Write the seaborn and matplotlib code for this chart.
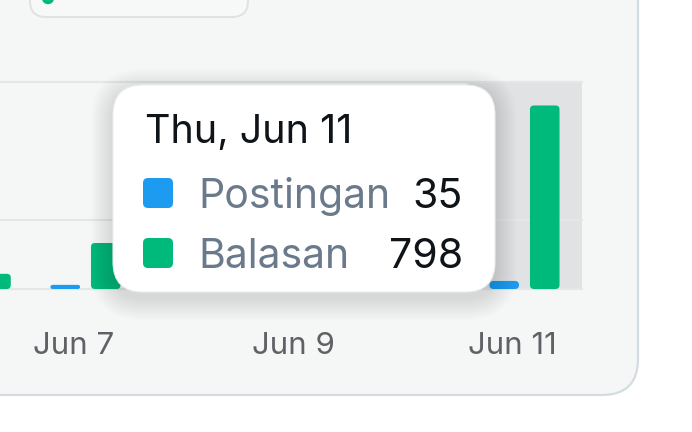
import pandas as pd
import matplotlib.pyplot as plt
import seaborn as sns
from matplotlib.patches import FancyBboxPatch, Circle
from matplotlib.transforms import ScaledTranslation

# Data (Jun 8-10 are hidden behind the tooltip)
days = ["Jun 6", "Jun 7", "Jun 8", "Jun 9", "Jun 10", "Jun 11"]
postingan = [16, 18, 24, 14, 20, 35]
balasan = [66, 200, 330, 250, 460, 798]
series = ["Postingan", "Balasan"]
colors = ["#1d9bf0", "#00ba7c"]
tick_days = ["Jun 7", "Jun 9", "Jun 11"]
grid_vals = [0, 300, 900]
hover_day = "Jun 11"
hover_title = "Thu, Jun 11"

W, H = 692, 432

df = pd.DataFrame({
    "day": days * 2,
    "value": postingan + balasan,
    "series": [series[0]] * len(days) + [series[1]] * len(days),
})

sns.set_theme(style="white")
plt.rcParams["font.family"] = ["Inter", "DejaVu Sans"]

fig = plt.figure(figsize=(W / 100, H / 100), dpi=100)
fig.patch.set_facecolor("white")
inch = fig.dpi_scale_trans


def box(x0, y0, x1, y1, r, **kw):
    # pixel box (top-left origin) -> rounded patch in inches
    p = FancyBboxPatch((x0 / 100, (H - y1) / 100), (x1 - x0) / 100, (y1 - y0) / 100,
                       boxstyle=f"round,pad=0,rounding_size={r / 100}",
                       transform=inch, **kw)
    fig.add_artist(p)
    return p


# card background
box(-60, -60, 638, 395, 36, facecolor="#f5f7f7", edgecolor="#d3dce0", lw=1.6, zorder=-2)
# legend pill (mostly cut off at the top)
box(30, -40, 248, 17, 16, facecolor="#f7f8f8", edgecolor="#dde2e5", lw=1.4, zorder=-1)
fig.add_artist(Circle((48 / 100, (H + 2) / 100), 0.055, transform=inch,
                      color=colors[1], zorder=-1))

ax = fig.add_axes([0, (H - 289) / H, 582 / W, 207 / H])
ax.set_facecolor("none")

sns.barplot(data=df, x="day", y="value", hue="series", order=days, hue_order=series,
            palette=colors, width=0.738, gap=0.27, saturation=1, errorbar=None,
            legend=False, ax=ax, zorder=3)
bars = list(ax.patches)

ax.set_xlim(0.221, 5.524)
ax.set_ylim(0, 900)
for s in ax.spines.values():
    s.set_visible(False)

# hovered day band
hi = days.index(hover_day)
ax.axvspan(hi - 0.52, hi + 0.6, color="#e1e2e4", lw=0, zorder=0)

ax.set_yticks(grid_vals)
ax.set_yticklabels([])
ax.yaxis.grid(True, color="#e4e7e9", lw=1.6, zorder=1)
for gl in ax.get_ygridlines():
    gl.set_clip_on(False)
ax.tick_params(axis="y", length=0)

ax.set_xticks([days.index(d) for d in tick_days])
ax.set_xticklabels(tick_days)
ax.set_xlabel("")
ax.set_ylabel("")
ax.tick_params(axis="x", length=0, pad=31, labelsize=22.5, labelcolor="#5e6266")
for lab in ax.get_xticklabels():
    lab.set_transform(lab.get_transform() + ScaledTranslation(-12 / 100, 0, inch))

# rounded bar corners
xlo, xhi = ax.get_xlim()
ylo, yhi = ax.get_ylim()
sx = (xhi - xlo) / 582
sy = (yhi - ylo) / 207
for b in bars:
    x, y, w, h = b.get_x(), b.get_y(), b.get_width(), b.get_height()
    r_px = min(4, w / sx / 2, h / sy / 2)
    rb = FancyBboxPatch((x, y), w, h, boxstyle=f"round,pad=0,rounding_size={r_px * sx}",
                        mutation_aspect=sy / sx, facecolor=b.get_facecolor(),
                        lw=0, zorder=3)
    b.remove()
    ax.add_patch(rb)

# tooltip with soft shadow
for i in range(10):
    g = 2 + i * 2.2
    box(113 - g, 85 - g + 6, 495 + g, 292 + g + 6, 30 + g,
        facecolor="black", alpha=0.011, lw=0, zorder=4)
box(113, 85, 495, 292, 30, facecolor="white", edgecolor="#eceeef", lw=0.8, zorder=5)

fig.text(145 / W, 1 - 143 / H, hover_title, fontsize=28.5, color="#0f1419",
         va="baseline", zorder=6)
vals = [postingan[hi], balasan[hi]]
for k, (name, col, v) in enumerate(zip(series, colors, vals)):
    base = 208 + k * 60
    box(143, base - 30, 173, base, 5, facecolor=col, lw=0, zorder=6)
    fig.text(198 / W, 1 - base / H, name, fontsize=29.5, color="#6a7a8a",
             va="baseline", zorder=6)
    fig.text(463 / W, 1 - base / H, str(v), fontsize=29.5, color="#0f1419",
             va="baseline", ha="right", zorder=6)

fig.savefig("out.png", dpi=100)
